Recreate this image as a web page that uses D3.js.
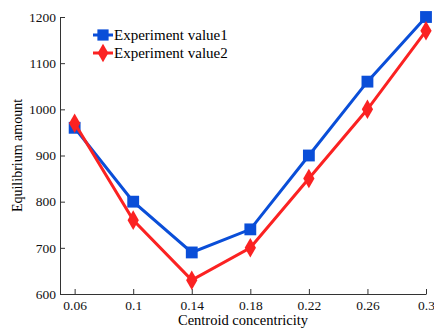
<!DOCTYPE html>
<html>
<head>
<meta charset="utf-8">
<script src="https://cdn.jsdelivr.net/npm/d3@7"></script>
<style>
  body { margin: 0; background: #fff; }
  text { font-family: "Liberation Serif", "Times New Roman", serif; }
</style>
</head>
<body>
<div id="chart"></div>
<script>
const xValues = [0.06, 0.1, 0.14, 0.18, 0.22, 0.26, 0.3];
const value1 = [960, 800, 690, 740, 900, 1060, 1200];
const value2 = [970, 760, 630, 700, 850, 1000, 1170];
const seriesNames = ["Experiment value1", "Experiment value2"];
const yTicks = [600, 700, 800, 900, 1000, 1100, 1200];

const width = 434, height = 331;
const margin = { left: 60, right: 8, top: 17, bottom: 37 };

const svg = d3.select("#chart").append("svg")
  .attr("width", width)
  .attr("height", height);

const x = d3.scaleLinear().domain([0.05, 0.3]).range([margin.left, width - margin.right]);
const y = d3.scaleLinear().domain([600, 1200]).range([height - margin.bottom, margin.top]);

// axes, ticks pointing inward
const xAxis = svg.append("g")
  .attr("transform", "translate(0," + (height - margin.bottom) + ")")
  .call(d3.axisBottom(x).tickValues(xValues).tickSizeInner(-5).tickSizeOuter(0).tickPadding(6)
    .tickFormat(d => String(+d.toFixed(2))));
const yAxis = svg.append("g")
  .attr("transform", "translate(" + margin.left + ",0)")
  .call(d3.axisLeft(y).tickValues(yTicks).tickSizeInner(-5).tickSizeOuter(0).tickPadding(4)
    .tickFormat(d3.format("d")));

[xAxis, yAxis].forEach(a => {
  a.selectAll("path, line").attr("stroke", "#333");
  a.selectAll("text").attr("font-size", 13.5).attr("fill", "#111")
    .style("font-family", '"Liberation Serif", serif');
});

svg.append("text")
  .attr("x", 243)
  .attr("y", 325)
  .attr("text-anchor", "middle")
  .attr("font-size", 14.5)
  .text("Centroid concentricity");

svg.append("text")
  .attr("transform", "translate(22," + ((margin.top + height - margin.bottom) / 2) + ") rotate(-90)")
  .attr("text-anchor", "middle")
  .attr("font-size", 14)
  .text("Equilibrium amount");

const series = [
  { name: seriesNames[0], values: value1, color: "#0a4ed8", shape: d3.symbolSquare, size: 140 },
  { name: seriesNames[1], values: value2, color: "#fb2222", shape: d3.symbolDiamond, size: 110 }
];

const line = d3.line()
  .x((d, i) => x(xValues[i]))
  .y(d => y(d));

series.forEach(s => {
  svg.append("path")
    .datum(s.values)
    .attr("fill", "none")
    .attr("stroke", s.color)
    .attr("stroke-width", 3)
    .attr("d", line);
  svg.selectAll(null)
    .data(s.values)
    .enter().append("path")
    .attr("transform", (d, i) => "translate(" + x(xValues[i]) + "," + y(d) + ")")
    .attr("d", d3.symbol().type(s.shape).size(s.size))
    .attr("fill", s.color);
});

// legend
const legend = svg.append("g").attr("transform", "translate(93,35)");
series.forEach((s, i) => {
  const g = legend.append("g").attr("transform", "translate(0," + (i * 18) + ")");
  g.append("line").attr("x1", 0).attr("x2", 20).attr("y1", 0).attr("y2", 0)
    .attr("stroke", s.color).attr("stroke-width", 3);
  g.append("path").attr("transform", "translate(10,0)")
    .attr("d", d3.symbol().type(s.shape).size(s.size * 0.9))
    .attr("fill", s.color);
  g.append("text").attr("x", 21).attr("y", 5)
    .attr("font-size", 15)
    .text(s.name);
});
</script>
</body>
</html>
